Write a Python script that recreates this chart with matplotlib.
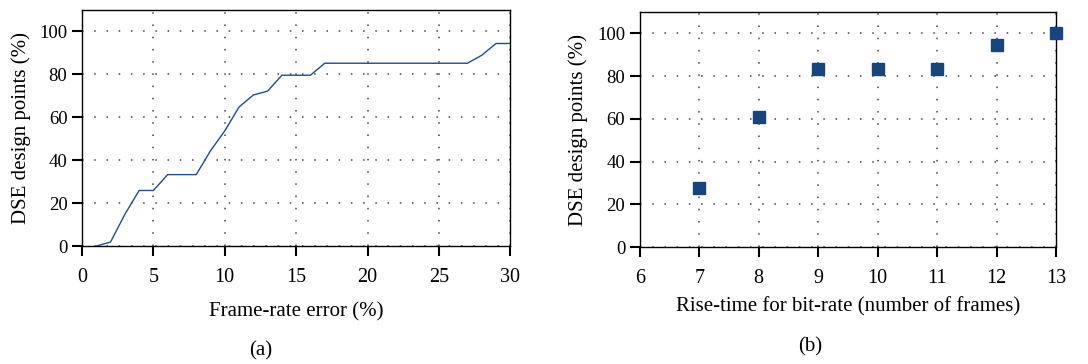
import numpy as np
import matplotlib.pyplot as plt

# panel (a): cumulative share of DSE design points vs frame-rate error
err_pct = [1, 2, 3, 4, 5, 6, 7, 8, 9, 10, 11, 12, 13, 14, 15, 16, 17, 18, 19, 20,
           21, 22, 23, 24, 25, 26, 27, 28, 29, 30]
err_points = [0.0, 1.9, 14.8, 25.9, 25.9, 33.3, 33.3, 33.3, 44.4, 53.7, 64.8, 70.4,
              72.2, 79.6, 79.6, 79.6, 85.2, 85.2, 85.2, 85.2, 85.2, 85.2, 85.2, 85.2,
              85.2, 85.2, 85.2, 88.9, 94.4, 94.4]

# panel (b): share of design points vs rise-time
rise_frames = [7, 8, 9, 10, 11, 12, 13]
rise_points = [27.8, 61.1, 83.3, 83.3, 83.3, 94.4, 100.0]

plt.rcParams['font.family'] = ['Liberation Serif', 'DejaVu Serif']
plt.rcParams['font.size'] = 15

blue = '#1f4e8c'
mblue = '#17467f'
grid_style = dict(color='#444444', linestyle=(0, (1, 7)), linewidth=1.1)

fig = plt.figure(figsize=(10.88, 3.64), dpi=100)
ax1 = fig.add_axes([0.0754, 0.324, 0.3936, 0.6485])
ax2 = fig.add_axes([0.588, 0.321, 0.3826, 0.646])

ax1.plot(err_pct, err_points, color=blue, linewidth=1.0)
ax1.set_xlim(0, 30)
ax1.set_ylim(0, 110)
ax1.set_xticks(np.arange(0, 31, 5))
ax1.set_yticks(np.arange(0, 101, 20))
ax1.set_xlabel('Frame-rate error (%)', va='center')
ax1.set_ylabel('DSE design points (%)', va='center')
ax1.xaxis.set_label_coords(0.5, -0.28)
ax1.yaxis.set_label_coords(-0.143, 0.5)

ax2.plot(rise_frames, rise_points, linestyle='none', marker='s', markersize=9,
         color=mblue, clip_on=False, zorder=3)
ax2.set_xlim(6, 13)
ax2.set_ylim(0, 110)
ax2.set_xticks(np.arange(6, 14, 1))
ax2.set_yticks(np.arange(0, 101, 20))
ax2.set_xlabel('Rise-time for bit-rate (number of frames)', va='center')
ax2.set_ylabel('DSE design points (%)', va='center')
ax2.xaxis.set_label_coords(0.5, -0.255)
ax2.yaxis.set_label_coords(-0.147, 0.5)

for ax in (ax1, ax2):
    ax.grid(True, **grid_style)
    ax.tick_params(direction='out', length=7.5, width=1.5, top=False, right=False)
    ax.tick_params(axis='x', labelsize=14.5, pad=8)
    ax.tick_params(axis='y', labelsize=13.5, pad=3)
    for s in ax.spines.values():
        s.set_linewidth(1.0)

fig.text(0.24, 0.035, '(a)', ha='center', va='center')
fig.text(0.745, 0.047, '(b)', ha='center', va='center')

fig.savefig('out.png', dpi=100)
